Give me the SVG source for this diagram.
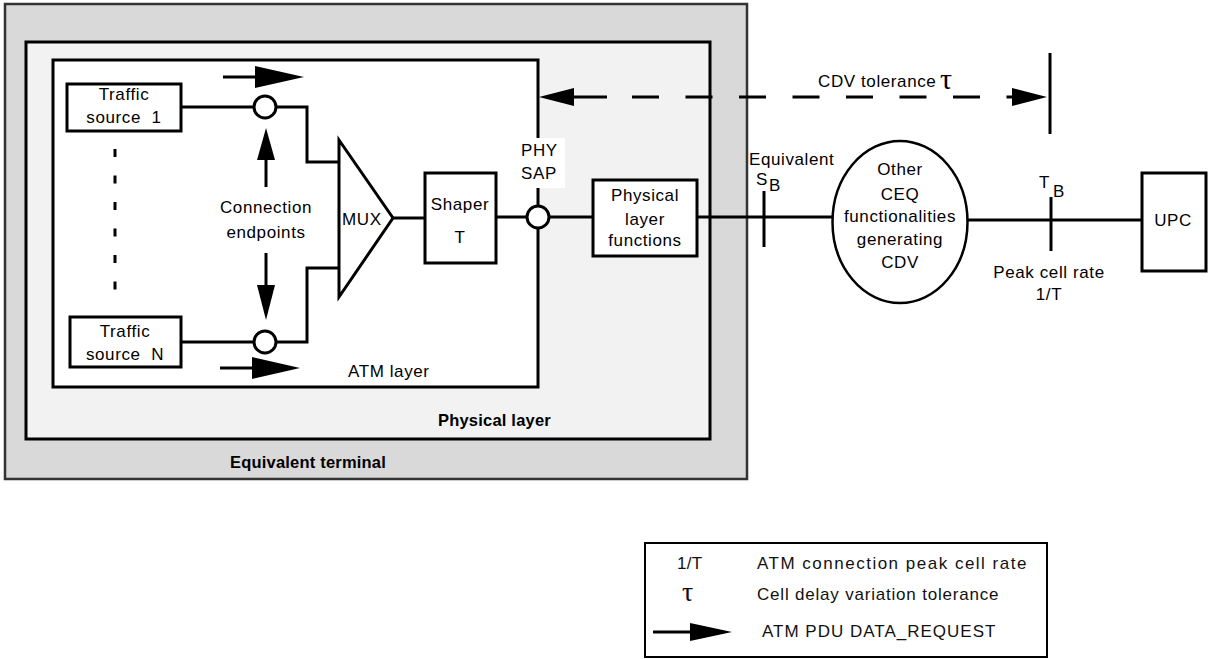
<svg xmlns="http://www.w3.org/2000/svg" width="1208" height="659" viewBox="0 0 1208 659">
<style>
text{font-family:"Liberation Sans",Arial,sans-serif;font-size:17px;fill:#000;letter-spacing:0.6px}
.c{text-anchor:middle}
.b{font-weight:bold;font-size:16.5px;letter-spacing:0.2px}
.g{font-family:"Liberation Serif","Times New Roman",serif;font-size:30px;letter-spacing:0}
.box{fill:#fff;stroke:#000;stroke-width:3}
.ln{fill:none;stroke:#000;stroke-width:3}
.ah{fill:#000;stroke:none}
.lg{fill:#111}
</style>
<g id="equivalent-terminal">
<rect x="5" y="4" width="742" height="475" fill="#d9d9d9" stroke="#333" stroke-width="2.5"/>
<text class="b" x="230" y="468">Equivalent terminal</text>
</g>
<g id="physical-layer">
<rect x="26" y="42" width="684" height="397" fill="#f2f2f2" stroke="#000" stroke-width="3"/>
<text class="b" x="438" y="426">Physical layer</text>
</g>
<g id="atm-layer">
<rect x="53" y="60" width="485" height="327" fill="#fff" stroke="#000" stroke-width="3"/>
<text x="348" y="377">ATM layer</text>
</g>
<g id="phy-sap-label">
<rect x="517" y="138" width="48" height="50" fill="#fff"/>
<text x="521" y="156">PHY</text>
<text x="521" y="179">SAP</text>
</g>
<g id="connectors">
<line class="ln" x1="181" y1="107" x2="254" y2="107"/>
<polyline class="ln" points="276,107 307,107 307,162 341,162"/>
<line class="ln" x1="181" y1="342" x2="254" y2="342"/>
<polyline class="ln" points="276,342 307,342 307,268 341,268"/>
<line class="ln" x1="393" y1="218" x2="425" y2="218"/>
<line class="ln" x1="496" y1="217" x2="527" y2="217"/>
<line class="ln" x1="549" y1="217" x2="593" y2="217"/>
<line class="ln" x1="697" y1="217" x2="833" y2="217"/>
<line class="ln" x1="968" y1="220" x2="1142" y2="220"/>
<line class="ln" x1="764" y1="191" x2="764" y2="247"/>
<line class="ln" x1="1051" y1="197" x2="1051" y2="251"/>
<line class="ln" x1="115" y1="149" x2="115" y2="291" stroke-dasharray="8 18.5"/>
<line class="ln" x1="223" y1="77" x2="257" y2="77"/>
<polygon class="ah" points="255,66 304,77 255,88"/>
<line class="ln" x1="220" y1="368" x2="254" y2="368"/>
<polygon class="ah" points="252,357 300,368 252,379"/>
<line class="ln" x1="266" y1="187" x2="266" y2="158"/>
<polygon class="ah" points="257,160 266,128 275,160"/>
<line class="ln" x1="266" y1="253" x2="266" y2="287"/>
<polygon class="ah" points="257,285 266,320 275,285"/>
<line class="ln" x1="572" y1="97" x2="607" y2="97"/>
<line class="ln" x1="632" y1="97" x2="1012" y2="97" stroke-dasharray="27 26.5"/>
<polygon class="ah" points="539,97 574,88 574,106"/>
<polygon class="ah" points="1047,97 1012,88 1012,106"/>
<line class="ln" x1="1050" y1="53" x2="1050" y2="134"/>
</g>
<g id="cdv-tolerance-label">
<text x="818" y="87">CDV tolerance</text>
<text class="g" x="940" y="89">τ</text>
</g>
<g id="traffic-source-1">
<rect class="box" x="67" y="84" width="114" height="47"/>
<text class="c" x="124" y="100">Traffic</text>
<text class="c" x="124" y="123">source&#160; 1</text>
</g>
<g id="traffic-source-n">
<rect class="box" x="70" y="317" width="111" height="50"/>
<text class="c" x="125" y="337">Traffic</text>
<text class="c" x="125" y="360">source&#160; N</text>
</g>
<g id="endpoint-1"><circle class="box" cx="265" cy="107" r="11"/></g>
<g id="endpoint-n"><circle class="box" cx="265" cy="342" r="11"/></g>
<g id="connection-endpoints-label">
<text class="c" x="266" y="213">Connection</text>
<text class="c" x="266" y="238">endpoints</text>
</g>
<g id="mux">
<polygon class="box" points="339,140 393,218 339,297"/>
<text x="342" y="225">MUX</text>
</g>
<g id="shaper">
<rect class="box" x="425" y="173" width="71" height="90"/>
<text class="c" x="460" y="210">Shaper</text>
<text class="c" x="460" y="243">T</text>
</g>
<g id="phy-sap"><circle class="box" cx="538" cy="217" r="11"/></g>
<g id="physical-layer-functions">
<rect class="box" x="593" y="180" width="104" height="76"/>
<text class="c" x="645" y="201">Physical</text>
<text class="c" x="645" y="225">layer</text>
<text class="c" x="645" y="246">functions</text>
</g>
<g id="sb-label">
<text x="749" y="165">Equivalent</text>
<text x="756" y="185">S</text>
<text x="769" y="191">B</text>
</g>
<g id="other-ceq">
<ellipse cx="900" cy="222" rx="67.5" ry="81" fill="#fff" stroke="#000" stroke-width="2.5"/>
<text class="c" x="900" y="175">Other</text>
<text class="c" x="900" y="200">CEQ</text>
<text class="c" x="900" y="222">functionalities</text>
<text class="c" x="900" y="245">generating</text>
<text class="c" x="900" y="268">CDV</text>
</g>
<g id="tb-label">
<text x="1039" y="188">T</text>
<text x="1053" y="197">B</text>
<text class="c" x="1049" y="278">Peak cell rate</text>
<text class="c" x="1049" y="300">1/T</text>
</g>
<g id="upc">
<rect class="box" x="1142" y="173" width="64" height="98"/>
<text class="c" x="1173" y="226">UPC</text>
</g>
<g id="legend">
<rect x="645" y="543" width="402" height="114" fill="#fff" stroke="#000" stroke-width="2"/>
<text class="lg" x="677" y="569" style="letter-spacing:0.3px">1/T</text>
<text class="lg" x="757" y="569" style="letter-spacing:1.5px">ATM connection peak cell rate</text>
<text class="g lg" x="682" y="601" style="font-size:28px">τ</text>
<text class="lg" x="757" y="600" style="letter-spacing:0.8px">Cell delay variation tolerance</text>
<line class="ln" x1="653" y1="632" x2="692" y2="632"/>
<polygon class="ah" points="690,623 732,632 690,641"/>
<text class="lg" x="762" y="637" style="letter-spacing:1px">ATM PDU DATA_REQUEST</text>
</g>
</svg>
